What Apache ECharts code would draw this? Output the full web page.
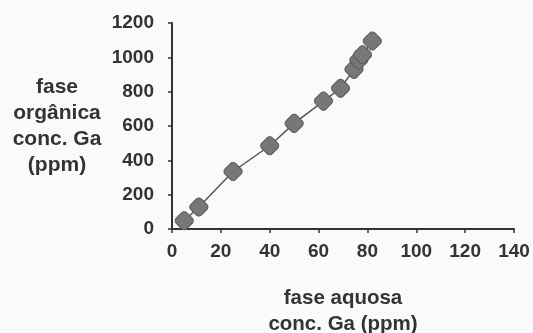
<!DOCTYPE html>
<html>
<head>
<meta charset="utf-8">
<script src="https://cdn.jsdelivr.net/npm/echarts@6/dist/echarts.min.js"></script>
<style>html,body{margin:0;padding:0;background:#fafafa;}#c{width:533px;height:333px;}</style>
</head>
<body>
<div id="c"></div>
<script>
const aqueousGa = [5, 11, 25, 40, 50, 62, 69, 74.5, 76.5, 78, 82];
const organicGa = [48, 128, 335, 485, 615, 745, 820, 930, 985, 1015, 1095];
const xTicks = [0, 20, 40, 60, 80, 100, 120, 140];
const yTicks = [0, 200, 400, 600, 800, 1000, 1200];

const pts = aqueousGa.map((x, i) => [x, organicGa[i]]);
const chart = echarts.init(document.getElementById('c'));
const font = 'Liberation Sans, Arial, sans-serif';
chart.setOption({
  backgroundColor: '#fafafa',
  animation: false,
  grid: { left: 172, right: 19, top: 23, bottom: 104, containLabel: false, outerBoundsMode: 'none' },
  xAxis: {
    type: 'value', min: 0, max: 140, interval: 20,
    name: 'fase aquosa\nconc. Ga (ppm)', nameLocation: 'middle', nameGap: 56,
    nameTextStyle: { fontFamily: font, fontWeight: 'bold', fontSize: 20.5, color: '#333', lineHeight: 26 },
    axisLine: { show: true, lineStyle: { color: '#333', width: 2 } },
    axisTick: { show: true, length: 4, lineStyle: { color: '#333', width: 1.5 } },
    axisLabel: { margin: 13, fontFamily: font, fontWeight: 'bold', fontSize: 19, color: '#333',
      formatter: v => xTicks.includes(v) ? String(v) : '' },
    splitLine: { show: false }
  },
  yAxis: {
    type: 'value', min: 0, max: 1200, interval: 200,
    name: 'fase\norgânica\nconc. Ga\n(ppm)', nameLocation: 'middle', nameGap: 115, nameRotate: 0,
    nameTextStyle: { fontFamily: font, fontWeight: 'bold', fontSize: 21, color: '#333', lineHeight: 26, align: 'center', verticalAlign: 'middle', padding: [7, 0, 0, 0] },
    axisLine: { show: true, lineStyle: { color: '#333', width: 2 } },
    axisTick: { show: true, length: 4, lineStyle: { color: '#333', width: 1.5 } },
    axisLabel: { margin: 18, fontFamily: font, fontWeight: 'bold', fontSize: 19, color: '#333',
      formatter: v => yTicks.includes(v) ? String(v) : '' },
    splitLine: { show: false }
  },
  series: [{
    type: 'line',
    data: pts,
    symbol: 'roundRect',
    symbolSize: 15,
    symbolRotate: 45,
    lineStyle: { color: '#555', width: 1.5 },
    itemStyle: { color: '#777', borderColor: '#5a5a5a', borderWidth: 1 }
  }]
});
</script>
</body>
</html>
